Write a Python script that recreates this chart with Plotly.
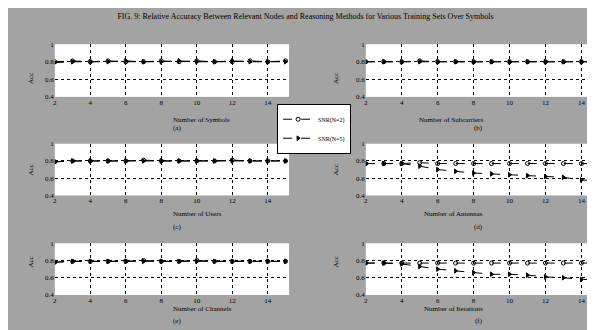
import plotly.graph_objects as go
from plotly.subplots import make_subplots

x = list(range(2, 16))

# panel (a)
a_n2 = [0.80, 0.81, 0.80, 0.81, 0.80, 0.80, 0.81, 0.80, 0.81, 0.80, 0.80, 0.81, 0.80, 0.81]
a_n5 = [0.79, 0.80, 0.80, 0.80, 0.81, 0.80, 0.80, 0.81, 0.80, 0.80, 0.81, 0.80, 0.80, 0.80]
# panel (b)
b_n2 = [0.80, 0.80, 0.80, 0.81, 0.80, 0.80, 0.80, 0.80, 0.80, 0.80, 0.80, 0.80, 0.80, 0.80]
b_n5 = [0.80, 0.80, 0.80, 0.80, 0.80, 0.80, 0.80, 0.80, 0.80, 0.80, 0.80, 0.80, 0.80, 0.80]
# panel (c)
c_n2 = [0.79, 0.80, 0.80, 0.80, 0.80, 0.81, 0.80, 0.80, 0.80, 0.80, 0.81, 0.80, 0.80, 0.80]
c_n5 = [0.79, 0.80, 0.80, 0.80, 0.80, 0.80, 0.80, 0.80, 0.80, 0.80, 0.80, 0.80, 0.80, 0.80]
# panel (d)
d_n2 = [0.77, 0.77, 0.77, 0.78, 0.77, 0.77, 0.77, 0.77, 0.77, 0.77, 0.77, 0.77, 0.77, 0.77]
d_n5 = [0.77, 0.77, 0.77, 0.74, 0.70, 0.68, 0.66, 0.65, 0.64, 0.63, 0.62, 0.61, 0.58, 0.57]
# panel (e)
e_n2 = [0.78, 0.79, 0.79, 0.79, 0.79, 0.80, 0.79, 0.79, 0.80, 0.79, 0.79, 0.79, 0.79, 0.79]
e_n5 = [0.78, 0.79, 0.79, 0.79, 0.79, 0.79, 0.79, 0.79, 0.79, 0.79, 0.79, 0.79, 0.79, 0.79]
# panel (f)
f_n2 = [0.77, 0.77, 0.77, 0.77, 0.77, 0.77, 0.77, 0.77, 0.77, 0.77, 0.77, 0.77, 0.77, 0.77]
f_n5 = [0.77, 0.77, 0.76, 0.73, 0.70, 0.68, 0.66, 0.64, 0.64, 0.63, 0.61, 0.60, 0.58, 0.58]

series_names = ["SNR(N=2)", "SNR(N=5)"]
panels = [(a_n2, a_n5), (b_n2, b_n5), (c_n2, c_n5), (d_n2, d_n5), (e_n2, e_n5), (f_n2, f_n5)]
x_titles = ["Number of Symbols", "Number of Subcarriers", "Number of Users",
            "Number of Antennas", "Number of Channels", "Number of Iterations"]
panel_labels = ["(a)", "(b)", "(c)", "(d)", "(e)", "(f)"]
y_ticks = [0.4, 0.6, 0.8, 1.0]
x_ticks = [2, 4, 6, 8, 10, 12, 14]
title_text = "FIG. 9: Relative Accuracy Between Relevant Nodes and Reasoning Methods for Various Training Sets Over Symbols"

FONT = "Liberation Serif"
W, H = 595, 330

fig = make_subplots(rows=3, cols=2)

col_dom = {1: (45 / W, 280 / W), 2: (357 / W, 1.0)}
row_px = {1: (33, 87), 2: (135, 188), 3: (237, 290)}

markers = ["circle-open", "triangle-right"]
for i, (s2, s5) in enumerate(panels):
    r, c = i // 2 + 1, i % 2 + 1
    for k, ys in enumerate((s2, s5)):
        fig.add_trace(go.Scatter(
            x=x, y=ys, mode="lines+markers", name=series_names[k],
            showlegend=(i == 0),
            line=dict(color="black", width=1, dash="dash"),
            marker=dict(symbol=markers[k], size=4, color="black",
                        line=dict(color="black", width=1)),
        ), row=r, col=c)
    n = i + 1
    xa = "xaxis" if n == 1 else f"xaxis{n}"
    ya = "yaxis" if n == 1 else f"yaxis{n}"
    top, bot = row_px[r]
    fig.layout[xa].update(domain=list(col_dom[c]), range=[2, 15.2], tickvals=x_ticks,
                          showgrid=True, gridcolor="black", griddash="dot", gridwidth=1,
                          zeroline=False, ticks="", tickfont=dict(size=7, family=FONT, color="black"),
                          showline=False)
    fig.layout[ya].update(domain=[1 - bot / H, 1 - top / H], range=[0.4, 1.0], tickvals=y_ticks,
                          showgrid=True, gridcolor="black", griddash="dot", gridwidth=1,
                          zeroline=False, ticks="", tickfont=dict(size=7, family=FONT, color="black"),
                          showline=False)
    cx = (col_dom[c][0] + col_dom[c][1]) / 2
    fig.add_annotation(x=cx, y=1 - (bot + 19) / H, xref="paper", yref="paper",
                       text=x_titles[i], showarrow=False, borderpad=0,
                       font=dict(size=7, family=FONT, color="black"))
    fig.add_annotation(x=cx, y=1 - (bot + 32) / H, xref="paper", yref="paper",
                       text=panel_labels[i], showarrow=False, borderpad=0,
                       font=dict(size=7, family=FONT, color="black"))
    fig.add_annotation(x=(col_dom[c][0] * W - 30) / W, y=1 - (top + bot) / 2 / H,
                       xref="paper", yref="paper", text="Acc", textangle=-90,
                       showarrow=False, font=dict(size=7, family=FONT, color="black"))

fig.update_layout(
    width=W, height=H,
    margin=dict(l=0, r=0, t=0, b=0),
    paper_bgcolor="#a3a3a3",
    plot_bgcolor="white",
    font=dict(family=FONT, color="black", size=8),
    title=dict(text=title_text, x=0.5, xanchor="center", y=0.985, yanchor="top",
               font=dict(size=8, family=FONT, color="black")),
    legend=dict(x=268 / W, y=1 - 94 / H, xanchor="left", yanchor="top",
                bgcolor="white", bordercolor="black", borderwidth=1,
                font=dict(size=6, family=FONT, color="black"),
                itemwidth=30, tracegroupgap=0),
)

fig.write_html("out.html")
